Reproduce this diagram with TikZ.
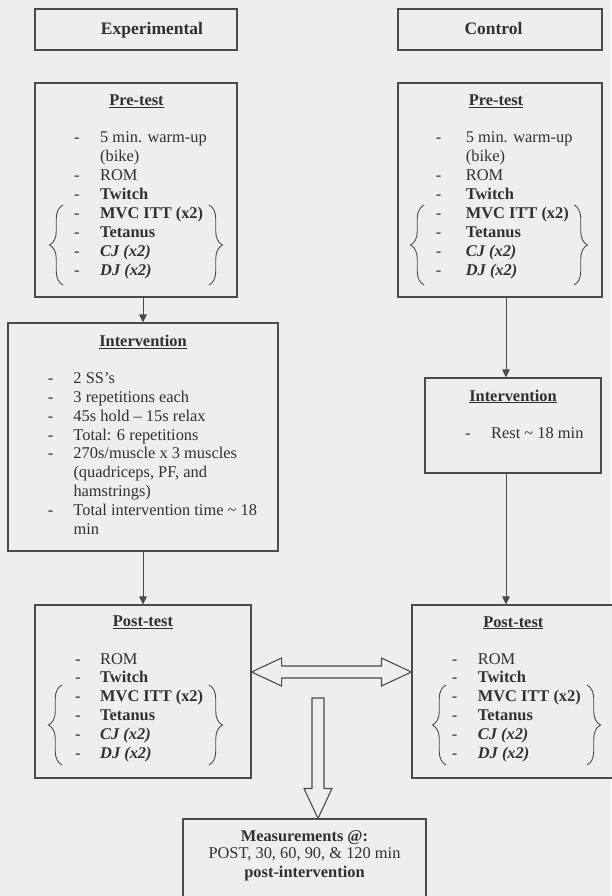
\documentclass[tikz,border=0pt]{standalone}
\usepackage{fontspec}
\setmainfont{Liberation Serif}
\usetikzlibrary{arrows.meta,decorations.pathreplacing,calc}
\definecolor{bgc}{RGB}{238,238,236}
\definecolor{linec}{RGB}{75,75,75}
\definecolor{txtc}{RGB}{48,48,48}
\newcommand{\bi}[1]{\textbf{\textit{#1}}}
\begin{document}
\begin{tikzpicture}[x=1pt,y=-1pt,
  box/.style={draw=linec, line width=1.1pt, fill=bgc, inner sep=0pt},
  txt/.style={text=txtc, inner sep=0pt, font=\fontsize{16.4}{18.9}\selectfont},
  hdr/.style={text=txtc, inner sep=0pt, font=\fontsize{17.5}{20}\selectfont\bfseries},
  arr/.style={draw=linec, line width=1pt, -{Triangle[length=8pt,width=7.5pt]}},
  brc/.style={draw=linec, line width=0.9pt, decorate, decoration={brace,amplitude=13.5pt}},
  blk/.style={draw=linec, line width=1.1pt, fill=bgc, line join=miter}]

\fill[bgc] (0,0) rectangle (611,896);
\useasboundingbox (0,0) rectangle (611,896);

% header boxes
\node[box, minimum width=202pt, minimum height=41pt] (hE) at (136,29.5) {};
\node[hdr, anchor=base] (hEt) at (152,35) {Experimental};
\node[box, minimum width=204pt, minimum height=41pt] (hC) at (500,29.5) {};
\node[hdr, anchor=base] (hCt) at (493.5,35) {Control};

% pre-test boxes
\node[box, minimum width=202pt, minimum height=214pt] (pE) at (136,190) {};
\node[txt, anchor=base] (pEt) at (136.5,106) {\textbf{\underline{Pre-test}}};
\node[txt, anchor=base west] (pEl) at (74,142.7) {\begin{tabular}[t]{@{}p{26pt}@{}l@{}}
- & 5 min. warm-up\\
  & (bike)\\
- & ROM\\
- & \textbf{Twitch}\\
- & \textbf{MVC ITT (x2)}\\
- & \textbf{Tetanus}\\
- & \bi{CJ (x2)}\\
- & \bi{DJ (x2)}
\end{tabular}};
\draw[brc] (63,285) -- (63,205);
\draw[brc] (209,205) -- (209,285);

\node[box, minimum width=204pt, minimum height=214pt] (pC) at (500,190) {};
\node[txt, anchor=base] (pCt) at (496,106) {\textbf{\underline{Pre-test}}};
\node[txt, anchor=base west] (pCl) at (435.7,142.7) {\begin{tabular}[t]{@{}p{30pt}@{}l@{}}
- & 5 min. warm-up\\
  & (bike)\\
- & ROM\\
- & \textbf{Twitch}\\
- & \textbf{MVC ITT (x2)}\\
- & \textbf{Tetanus}\\
- & \bi{CJ (x2)}\\
- & \bi{DJ (x2)}
\end{tabular}};
\draw[brc] (424,285) -- (424,205);
\draw[brc] (574,205) -- (574,285);

% intervention boxes
\node[box, minimum width=270pt, minimum height=228pt] (iE) at (143,437) {};
\node[txt, anchor=base] (iEt) at (143,346.5) {\textbf{\underline{Intervention}}};
\node[txt, anchor=base west] (iEl) at (47.7,383.3) {\begin{tabular}[t]{@{}p{25.6pt}@{}l@{}}
- & 2 SS’s\\
- & 3 repetitions each\\
- & 45s hold – 15s relax\\
- & Total: 6 repetitions\\
- & 270s/muscle x 3 muscles\\
  & (quadriceps, PF, and\\
  & hamstrings)\\
- & Total intervention time \textasciitilde{} 18\\
  & min
\end{tabular}};

\node[box, minimum width=176pt, minimum height=95pt] (iC) at (513,425.5) {};
\node[txt, anchor=base] (iCt) at (513,401) {\textbf{\underline{Intervention}}};
\node[txt, anchor=base west] (iCl) at (465,438) {\begin{tabular}[t]{@{}p{26pt}@{}l@{}}
- & Rest \textasciitilde{} 18 min
\end{tabular}};

% post-test boxes
\node[box, minimum width=216pt, minimum height=173pt] (qE) at (143,691.5) {};
\node[txt, anchor=base] (qEt) at (143,626.5) {\textbf{\underline{Post-test}}};
\node[txt, anchor=base west] (qEl) at (75,664) {\begin{tabular}[t]{@{}p{25pt}@{}l@{}}
- & ROM\\
- & \textbf{Twitch}\\
- & \textbf{MVC ITT (x2)}\\
- & \textbf{Tetanus}\\
- & \bi{CJ (x2)}\\
- & \bi{DJ (x2)}
\end{tabular}};
\draw[brc] (62,765) -- (62,685);
\draw[brc] (209,685) -- (209,765);

\node[box, minimum width=218pt, minimum height=173pt] (qC) at (521,691.5) {};
\node[txt, anchor=base] (qCt) at (513.3,627) {\textbf{\underline{Post-test}}};
\node[txt, anchor=base west] (qCl) at (451.7,664) {\begin{tabular}[t]{@{}p{26pt}@{}l@{}}
- & ROM\\
- & \textbf{Twitch}\\
- & \textbf{MVC ITT (x2)}\\
- & \textbf{Tetanus}\\
- & \bi{CJ (x2)}\\
- & \bi{DJ (x2)}
\end{tabular}};
\draw[brc] (446,765) -- (446,685);
\draw[brc] (587,685) -- (587,765);

% measurements box
\node[box, minimum width=243pt, minimum height=101pt] (mB) at (304.5,869.5) {};
\node[txt, anchor=base] (mB1) at (304.5,841) {\textbf{Measurements @:}};
\node[txt, anchor=base] (mB2) at (304.5,858) {POST, 30, 60, 90, \& 120 min};
\node[txt, anchor=base] (mB3) at (304.5,877) {\textbf{post-intervention}};

% thin arrows
\draw[arr] (iE.north |- pE.south) -- (iE.north);
\draw[arr] (iE.south) -- (qE.north);
\coordinate (cx) at (506,0);
\draw[arr] (cx |- pC.south) -- (cx |- iC.north);
\draw[arr] (cx |- iC.south) -- (cx |- qC.north);

% block double arrow between post-test boxes
\coordinate (dl) at (qE.east |- 0,672);
\coordinate (dr) at (qC.west |- 0,672);
\draw[blk] (dl) -- ($(dl)+(30,-14)$) -- ($(dl)+(30,-6)$) -- ($(dr)+(-30,-6)$) -- ($(dr)+(-30,-14)$)
  -- (dr) -- ($(dr)+(-30,14)$) -- ($(dr)+(-30,6)$) -- ($(dl)+(30,6)$) -- ($(dl)+(30,14)$) -- cycle;

% block down arrow to measurements
\coordinate (dt) at (318,698);
\coordinate (db) at (mB.north -| dt);
\draw[blk] ($(dt)+(-6,0)$) -- ($(dt)+(6,0)$) -- ($(db)+(6,-30)$) -- ($(db)+(14,-30)$) -- (db)
  -- ($(db)+(-14,-30)$) -- ($(db)+(-6,-30)$) -- cycle;
\end{tikzpicture}
\end{document}
